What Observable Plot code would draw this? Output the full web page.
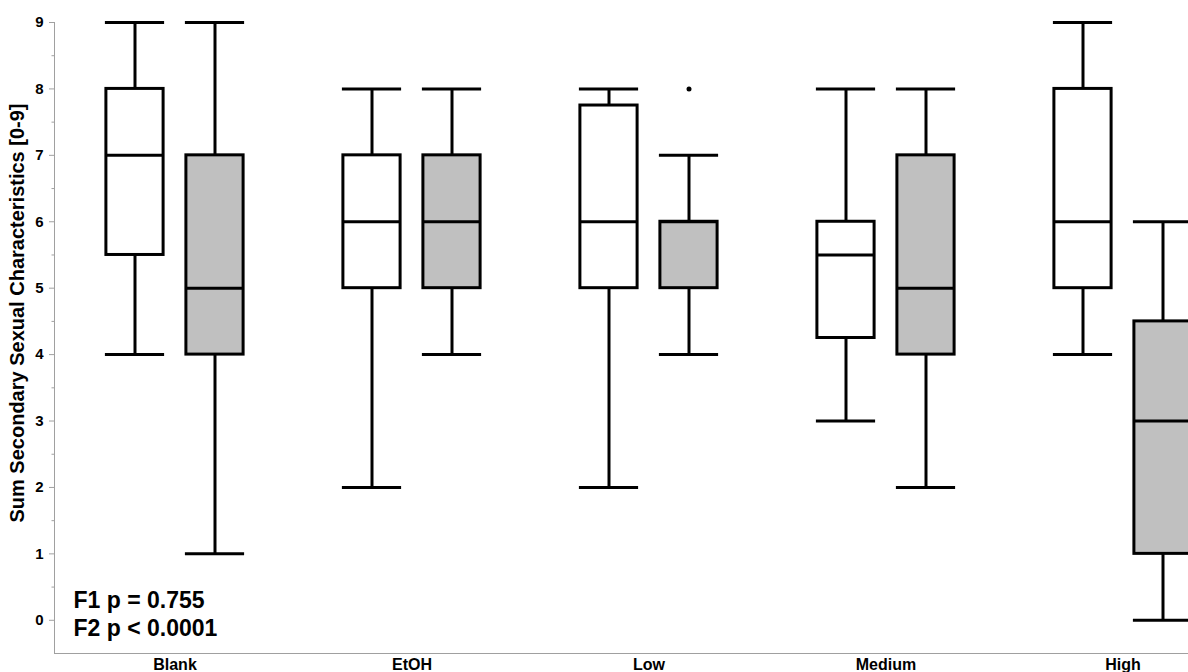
<!DOCTYPE html>
<html><head><meta charset="utf-8">
<script src="https://cdn.jsdelivr.net/npm/d3@7"></script>
<script src="https://cdn.jsdelivr.net/npm/@observablehq/plot@0.6"></script>
<style>
html,body{margin:0;padding:0;overflow:hidden;background:#fff;}
#chart svg{max-width:none !important;}
</style></head><body><div id="chart"></div>
<script>
// ---- data ----
const groups = ["Blank", "EtOH", "Low", "Medium", "High"];
const series = ["F1", "F2"]; // white boxes, grey boxes
const whiskerLowF1 = [4, 2, 2, 3, 4];
const q1F1         = [5.5, 5, 5, 4.25, 5];
const medianF1     = [7, 6, 6, 5.5, 6];
const q3F1         = [8, 7, 7.75, 6, 8];
const whiskerHighF1= [9, 8, 8, 8, 9];
const whiskerLowF2 = [1, 4, 4, 2, 0];
const q1F2         = [4, 5, 5, 4, 1];
const medianF2     = [5, 6, 6, 5, 3];
const q3F2         = [7, 7, 6, 7, 4.5];
const whiskerHighF2= [9, 8, 7, 8, 6];
const outlierGroup = ["Low"];
const outlierSeries = ["F2"];
const outlierValue = [8];
const yTicks = [0, 1, 2, 3, 4, 5, 6, 7, 8, 9];
const yMinorTicks = [0.5, 1.5, 2.5, 3.5, 4.5, 5.5, 6.5, 7.5, 8.5];
const yDomain = [-0.5, 9];
const yLabel = "Sum Secondary Sexual Characteristics [0-9]";
const annotation = ["F1 p = 0.755", "F2 p < 0.0001"];

// ---- table ----
const stats = {
  F1: [whiskerLowF1, q1F1, medianF1, q3F1, whiskerHighF1],
  F2: [whiskerLowF2, q1F2, medianF2, q3F2, whiskerHighF2]
};
const rows = [];
for (const s of series) {
  groups.forEach((g, i) => {
    const [lo, q1, med, q3, hi] = stats[s].map(a => a[i]);
    rows.push({group: g, series: s, lo, q1, med, q3, hi});
  });
}
const outliers = outlierGroup.map((g, i) => ({group: g, series: outlierSeries[i], value: outlierValue[i]}));

// ---- layout ----
const W = 1243, H = 672, ML = 54, MB = 19, MT = 22;
const bw = (W - ML) / groups.length;
const off = 40, boxW = 58, capW = 60;
const fills = {F1: "white", F2: "#c0c0c0"};
function ins(s, w) {
  const c = s === "F1" ? -off : off;
  return {insetLeft: bw / 2 + c - w / 2, insetRight: bw / 2 - c - w / 2};
}
const sw = 3;
const marks = [];
for (const s of series) {
  const d = rows.filter(r => r.series === s);
  const dx = s === "F1" ? -off : off;
  marks.push(
    Plot.ruleX(d, {x: "group", y1: "lo", y2: "q1", dx, stroke: "black", strokeWidth: sw}),
    Plot.ruleX(d, {x: "group", y1: "q3", y2: "hi", dx, stroke: "black", strokeWidth: sw}),
    Plot.tickY(d, {x: "group", y: "lo", stroke: "black", strokeWidth: sw, ...ins(s, capW)}),
    Plot.tickY(d, {x: "group", y: "hi", stroke: "black", strokeWidth: sw, ...ins(s, capW)}),
    Plot.barY(d, {x: "group", y1: "q1", y2: "q3", fill: fills[s], stroke: "black", strokeWidth: sw, strokeLinejoin: "miter", ...ins(s, boxW)}),
    Plot.tickY(d, {x: "group", y: "med", stroke: "black", strokeWidth: sw, ...ins(s, boxW)})
  );
  const od = outliers.filter(o => o.series === s);
  marks.push(Plot.dot(od, {x: "group", y: "value", dx, r: 2.5, fill: "black", stroke: "none"}));
}

const chart = Plot.plot({
  width: W, height: H,
  marginLeft: ML, marginRight: 0, marginTop: MT, marginBottom: MB,
  style: {fontFamily: "'Liberation Sans', Arial, sans-serif", background: "white", maxWidth: "none", overflow: "visible"},
  x: {domain: groups, padding: 0, label: null},
  y: {domain: yDomain, label: null},
  marks: [
    Plot.frame({anchor: "left", stroke: "#a0a0a0"}),
    Plot.frame({anchor: "bottom", stroke: "#a0a0a0"}),
    Plot.axisY(yTicks, {tickSize: 5, text: null, stroke: "#a0a0a0", label: null}),
    Plot.text(yTicks, {y: d => d, text: d => String(d), frameAnchor: "left", dx: -11, textAnchor: "end", lineAnchor: "middle", fontSize: 15, fontWeight: "bold", fill: "black"}),
    Plot.axisY(yMinorTicks, {tickSize: 2.5, text: null, stroke: "#a0a0a0", label: null}),
    Plot.axisX({tickSize: 0, tickPadding: 5, fontSize: 16, fontWeight: "bold", fill: "black", label: null}),
    ...marks,
    Plot.text([annotation.join("\n")], {text: d => d, frameAnchor: "bottom-left", textAnchor: "start", lineAnchor: "bottom", dx: 19, dy: -18, fontSize: 23, fontWeight: "bold", lineHeight: 1.2, fill: "black"}),
    Plot.text([yLabel], {text: d => d, frameAnchor: "left", rotate: -90, dx: -37, dy: -25, fontSize: 20, fontWeight: "bold", textAnchor: "middle", lineAnchor: "middle", fill: "black"})
  ]
});
document.getElementById("chart").appendChild(chart);
</script>
</body></html>
